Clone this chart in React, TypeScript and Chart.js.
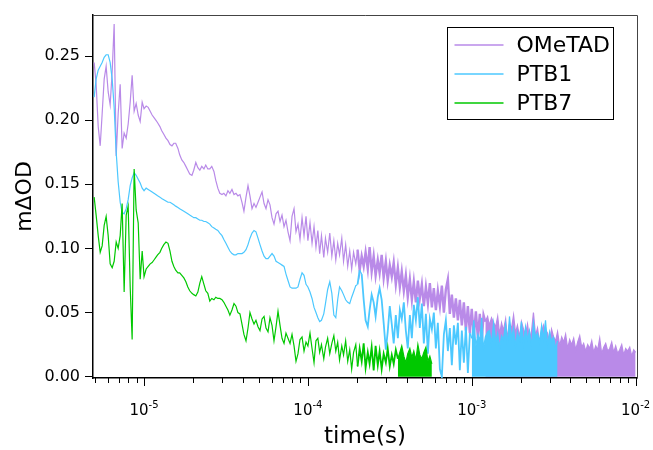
import React, { useEffect, useRef } from 'react';
import { Chart, registerables } from 'chart.js';

Chart.register(...registerables);

// Sampling times (s), shared by the three series
const TIME = [
  4.96e-6, 5.10e-6, 5.25e-6, 5.40e-6, 5.55e-6, 5.71e-6, 5.87e-6, 6.04e-6, 6.21e-6, 6.39e-6,
  6.57e-6, 6.76e-6, 6.95e-6, 7.15e-6, 7.35e-6, 7.56e-6, 7.78e-6, 8.00e-6, 8.23e-6, 8.46e-6,
  8.70e-6, 8.95e-6, 9.21e-6, 9.47e-6, 9.74e-6,
  1.00e-5, 1.03e-5, 1.06e-5, 1.09e-5, 1.12e-5, 1.15e-5, 1.18e-5, 1.21e-5, 1.25e-5, 1.28e-5,
  1.32e-5, 1.36e-5, 1.40e-5, 1.44e-5, 1.48e-5, 1.52e-5, 1.56e-5, 1.61e-5, 1.65e-5, 1.70e-5,
  1.75e-5, 1.80e-5, 1.85e-5, 1.90e-5, 1.96e-5, 2.01e-5, 2.07e-5, 2.13e-5, 2.19e-5, 2.25e-5,
  2.32e-5, 2.38e-5, 2.45e-5, 2.52e-5, 2.59e-5, 2.67e-5, 2.74e-5, 2.82e-5, 2.90e-5, 2.99e-5,
  3.07e-5, 3.16e-5, 3.25e-5, 3.34e-5, 3.44e-5, 3.54e-5, 3.64e-5, 3.74e-5, 3.85e-5, 3.96e-5,
  4.07e-5, 4.19e-5, 4.31e-5, 4.43e-5, 4.56e-5, 4.69e-5, 4.82e-5, 4.96e-5, 5.10e-5, 5.25e-5,
  5.40e-5, 5.55e-5, 5.71e-5, 5.87e-5, 6.04e-5, 6.21e-5, 6.39e-5, 6.57e-5, 6.76e-5, 6.95e-5,
  7.15e-5, 7.35e-5, 7.56e-5, 7.78e-5, 8.00e-5, 8.23e-5, 8.46e-5, 8.70e-5, 8.95e-5, 9.21e-5,
  9.47e-5, 9.74e-5,
  1.00e-4, 1.03e-4, 1.06e-4, 1.09e-4, 1.12e-4, 1.15e-4, 1.18e-4, 1.21e-4, 1.25e-4, 1.28e-4,
  1.32e-4, 1.36e-4, 1.40e-4, 1.44e-4, 1.48e-4, 1.52e-4, 1.56e-4, 1.61e-4, 1.65e-4, 1.70e-4,
  1.75e-4, 1.80e-4, 1.85e-4, 1.90e-4, 1.96e-4, 2.01e-4, 2.07e-4, 2.13e-4, 2.19e-4, 2.25e-4,
  2.32e-4, 2.38e-4, 2.45e-4, 2.52e-4, 2.59e-4, 2.67e-4, 2.74e-4, 2.82e-4, 2.90e-4, 2.99e-4,
  3.07e-4, 3.16e-4, 3.25e-4, 3.34e-4, 3.44e-4, 3.54e-4, 3.64e-4, 3.74e-4, 3.85e-4, 3.96e-4,
  4.07e-4, 4.19e-4, 4.31e-4, 4.43e-4, 4.56e-4, 4.69e-4, 4.82e-4, 4.96e-4, 5.10e-4, 5.25e-4,
  5.40e-4, 5.55e-4, 5.71e-4, 5.87e-4, 6.04e-4, 6.21e-4, 6.39e-4, 6.57e-4, 6.76e-4, 6.95e-4,
  7.15e-4, 7.35e-4, 7.56e-4, 7.78e-4, 8.00e-4, 8.23e-4, 8.46e-4, 8.70e-4, 8.95e-4, 9.21e-4,
  9.47e-4, 9.74e-4,
  1.00e-3, 1.03e-3, 1.06e-3, 1.09e-3, 1.12e-3, 1.15e-3, 1.18e-3, 1.21e-3, 1.25e-3, 1.28e-3,
  1.32e-3, 1.36e-3, 1.40e-3, 1.44e-3, 1.48e-3, 1.52e-3, 1.56e-3, 1.61e-3, 1.65e-3, 1.70e-3,
  1.75e-3, 1.80e-3, 1.85e-3, 1.90e-3, 1.96e-3, 2.01e-3, 2.07e-3, 2.13e-3, 2.19e-3, 2.25e-3,
  2.32e-3, 2.38e-3, 2.45e-3, 2.52e-3, 2.59e-3, 2.67e-3, 2.74e-3, 2.82e-3, 2.90e-3, 2.99e-3,
  3.07e-3, 3.16e-3, 3.25e-3, 3.34e-3, 3.44e-3, 3.54e-3, 3.64e-3, 3.74e-3, 3.85e-3, 3.96e-3,
  4.07e-3, 4.19e-3, 4.31e-3, 4.43e-3, 4.56e-3, 4.69e-3, 4.82e-3, 4.96e-3, 5.10e-3, 5.25e-3,
  5.40e-3, 5.55e-3, 5.71e-3, 5.87e-3, 6.04e-3, 6.21e-3, 6.39e-3, 6.57e-3, 6.76e-3, 6.95e-3,
  7.15e-3, 7.35e-3, 7.56e-3, 7.78e-3, 8.00e-3, 8.23e-3, 8.46e-3, 8.70e-3, 8.95e-3, 9.21e-3,
  9.47e-3, 9.74e-3,
  1.00e-2,
];

// mΔOD values
const OMETAD = [
  0.245, 0.228, 0.195, 0.180, 0.205, 0.232, 0.242, 0.222, 0.212, 0.238,
  0.275, 0.172, 0.205, 0.228, 0.178, 0.190, 0.186, 0.197, 0.214, 0.235,
  0.207, 0.213, 0.204, 0.199, 0.214, 0.209, 0.211, 0.210, 0.207, 0.204,
  0.202, 0.200, 0.198, 0.195, 0.192, 0.189, 0.186, 0.184, 0.181, 0.180,
  0.182, 0.182, 0.178, 0.173, 0.169, 0.167, 0.164, 0.161, 0.158, 0.157,
  0.161, 0.167, 0.163, 0.161, 0.164, 0.162, 0.165, 0.162, 0.162, 0.164,
  0.160, 0.153, 0.147, 0.143, 0.142, 0.143, 0.141, 0.145, 0.143, 0.146,
  0.142, 0.143, 0.141, 0.142, 0.136, 0.129, 0.140, 0.149, 0.141, 0.131,
  0.135, 0.132, 0.136, 0.140, 0.144, 0.135, 0.131, 0.138, 0.134, 0.124,
  0.119, 0.127, 0.129, 0.121, 0.126, 0.117, 0.122, 0.113, 0.106, 0.125,
  0.131, 0.113, 0.119,
  0.107, 0.124, 0.110, 0.125, 0.106, 0.120, 0.104, 0.117, 0.101, 0.114,
  0.096, 0.110, 0.093, 0.108, 0.097, 0.112, 0.094, 0.106, 0.091, 0.104,
  0.095, 0.108, 0.090, 0.103, 0.086, 0.098, 0.084, 0.097, 0.088, 0.099,
  0.083, 0.094, 0.086, 0.097, 0.084, 0.101, 0.082, 0.094, 0.079, 0.091,
  0.081, 0.095, 0.077, 0.090, 0.075, 0.087, 0.078, 0.089, 0.072, 0.085,
  0.070, 0.082, 0.067, 0.079, 0.062, 0.076, 0.060, 0.074, 0.058, 0.075,
  0.061, 0.072, 0.055, 0.070, 0.057, 0.073, 0.054, 0.069, 0.052, 0.067,
  0.055, 0.071, 0.050, 0.068, 0.076, 0.049, 0.064, 0.046, 0.061, 0.044,
  0.060, 0.040, 0.058, 0.036, 0.055, 0.034, 0.053, 0.032, 0.051, 0.030,
  0.049, 0.027, 0.048, 0.043, 0.047, 0.040, 0.046, 0.042,
  0.039, 0.047, 0.033, 0.042, 0.036, 0.045, 0.030, 0.041, 0.038, 0.048,
  0.034, 0.040, 0.031, 0.043, 0.037,
  0.033, 0.041, 0.029, 0.036, 0.050, 0.032, 0.038, 0.027, 0.035, 0.040,
  0.030, 0.034, 0.026, 0.037, 0.031,
  0.028, 0.035, 0.024, 0.031, 0.027, 0.033, 0.022, 0.029, 0.025, 0.030,
  0.021, 0.027, 0.032, 0.023, 0.026,
  0.020, 0.025, 0.022, 0.028, 0.019, 0.024, 0.021, 0.030, 0.018, 0.023,
  0.026, 0.020, 0.022, 0.027, 0.019,
  0.024, 0.018, 0.021, 0.025, 0.017, 0.022, 0.020, 0.023, 0.016, 0.021,
  0.019,
];

const PTB1 = [
  0.218, 0.232, 0.239, 0.242, 0.245, 0.249, 0.251, 0.251, 0.245, 0.232,
  0.210, 0.175, 0.152, 0.136, 0.128, 0.127, 0.131, 0.138, 0.149, 0.155,
  0.159, 0.157, 0.154, 0.151, 0.147, 0.145, 0.147, 0.146, 0.145, 0.144,
  0.143, 0.142, 0.141, 0.140, 0.139, 0.138, 0.137, 0.136, 0.136, 0.135,
  0.134, 0.133, 0.132, 0.131, 0.130, 0.129, 0.128, 0.127, 0.126, 0.125,
  0.124, 0.124, 0.123, 0.122, 0.122, 0.121, 0.121, 0.120, 0.119, 0.117,
  0.116, 0.115, 0.114, 0.112, 0.110, 0.107, 0.104, 0.101, 0.098, 0.096,
  0.095, 0.095, 0.096, 0.096, 0.096, 0.097, 0.099, 0.103, 0.108, 0.112,
  0.114, 0.113, 0.108, 0.103, 0.098, 0.094, 0.092, 0.092, 0.094, 0.096,
  0.094, 0.090, 0.089, 0.088, 0.087, 0.086, 0.080, 0.075, 0.070, 0.069,
  0.069, 0.069, 0.070, 0.076, 0.081, 0.079, 0.072, 0.070, 0.066, 0.061,
  0.054, 0.050, 0.046, 0.043, 0.044, 0.049, 0.057, 0.068, 0.074, 0.065,
  0.048, 0.046, 0.060, 0.070, 0.067, 0.064, 0.060, 0.058, 0.057, 0.062,
  0.066, 0.071, 0.072, 0.083, 0.080, 0.060,
  0.044, 0.039, 0.052, 0.064, 0.058, 0.047, 0.062, 0.069, 0.060, 0.042,
  0.021, 0.035, 0.055, 0.041, 0.026,
  0.048, 0.030, 0.052, 0.045, 0.058, 0.036, 0.022, 0.048, 0.030, 0.056,
  0.044, 0.062, 0.038, 0.057, 0.026,
  0.049, 0.018, 0.045, 0.037, 0.050, 0.022, 0.042, 0.006, 0.000, 0.033,
  0.044, 0.020, 0.038, 0.009, 0.040,
  0.025, 0.042, 0.005, 0.036, 0.011, 0.039, 0.003, 0.034,
  0.030, 0.044, 0.024, 0.033, 0.028, 0.046, 0.022, 0.031, 0.035, 0.036,
  0.026, 0.042,
  0.027, 0.034, 0.023, 0.032, 0.029, 0.041, 0.025, 0.047, 0.030, 0.038,
  0.024, 0.035, 0.028, 0.043, 0.026,
  0.039, 0.029, 0.036, 0.024, 0.042, 0.031, 0.034, 0.027, 0.040, 0.030,
  0.044, 0.025, 0.035, 0.028, 0.031, 0.022, 0.028,
];

const PTB7 = [
  0.140, 0.126, 0.110, 0.097, 0.102, 0.118, 0.125, 0.110, 0.088, 0.085,
  0.090, 0.105, 0.100, 0.110, 0.135, 0.066, 0.126, 0.133, 0.070, 0.029,
  0.162, 0.130, 0.120, 0.076, 0.098, 0.078, 0.084, 0.086, 0.088, 0.089,
  0.091, 0.093, 0.095, 0.097, 0.100, 0.103, 0.105, 0.104, 0.098, 0.090,
  0.086, 0.083, 0.081, 0.081, 0.079, 0.077, 0.074, 0.070, 0.067, 0.065,
  0.064, 0.063, 0.066, 0.073, 0.078, 0.072, 0.067, 0.065, 0.059, 0.061,
  0.060, 0.062, 0.061, 0.061, 0.060, 0.058, 0.055, 0.052, 0.048, 0.052,
  0.057, 0.055, 0.050, 0.049, 0.041, 0.033, 0.028, 0.038, 0.050, 0.045,
  0.041, 0.044, 0.039, 0.036, 0.045, 0.047, 0.038, 0.035, 0.046, 0.040,
  0.028, 0.039, 0.051, 0.040, 0.030, 0.026, 0.034, 0.030, 0.026, 0.033,
  0.024, 0.012, 0.018, 0.029, 0.031, 0.020, 0.027, 0.024, 0.034, 0.022,
  0.011, 0.028, 0.030, 0.019, 0.025, 0.014, 0.023, 0.030, 0.018, 0.026,
  0.032, 0.020, 0.027, 0.013, 0.024, 0.017, 0.028, 0.012, 0.021, 0.006,
  0.019, 0.025, 0.008, 0.022, 0.012, 0.026, 0.007, 0.019, 0.010, 0.023,
  0.005, 0.024, 0.009, 0.020, 0.006, 0.018, 0.011, 0.022, 0.008, 0.017,
  0.010,
  0.021, 0.014, 0.019, 0.024, 0.016, 0.011, 0.018, 0.022, 0.015, 0.020,
  0.013, 0.025, 0.017, 0.014, 0.019, 0.023, 0.012, 0.016, 0.010,
];

const SERIES_LABELS = ['OMeTAD', 'PTB1', 'PTB7'];
const SERIES_COLORS = ['#b98ae8', '#4cc8ff', '#00c800'];
// from these times on, the traces are so dense that they read as a filled band
const BAND_FROM = [1.2e-3, 1.0e-3, 3.5e-4];
const STEEP_FROM = 2e-4;
const STEEP_WIDTH = [2.4, 1.8, 1.8];

const Y_TICKS = [0, 0.05, 0.1, 0.15, 0.2, 0.25];
const X_MAJOR = [1e-5, 1e-4, 1e-3, 1e-2];
const X_MAJOR_EXP = ['-5', '-4', '-3', '-2'];
const X_MINOR = [
  5e-6, 6e-6, 7e-6, 8e-6, 9e-6,
  2e-5, 3e-5, 4e-5, 5e-5, 6e-5, 7e-5, 8e-5, 9e-5,
  2e-4, 3e-4, 4e-4, 5e-4, 6e-4, 7e-4, 8e-4, 9e-4,
  2e-3, 3e-3, 4e-3, 5e-3, 6e-3, 7e-3, 8e-3, 9e-3,
];

const FONT = 'DejaVu Sans';
const CLEAR = 'rgba(0,0,0,0)';

function toPoints(values: number[]) {
  return values.map((v, i) => ({ x: TIME[i], y: v }));
}

const framePlugin = {
  id: 'frameAndTicks',
  afterDraw(chart: any) {
    const { ctx, chartArea: a, scales } = chart;
    const xs = scales.x;
    ctx.save();
    // top & right frame
    ctx.strokeStyle = '#444';
    ctx.lineWidth = 1;
    ctx.beginPath();
    ctx.moveTo(a.left, a.top + 0.5);
    ctx.lineTo(a.right + 0.5, a.top + 0.5);
    ctx.lineTo(a.right + 0.5, a.bottom);
    ctx.stroke();
    // x tick marks
    ctx.strokeStyle = '#000';
    ctx.lineWidth = 1;
    ctx.beginPath();
    X_MINOR.forEach((t) => {
      const px = Math.round(xs.getPixelForValue(t)) + 0.5;
      ctx.moveTo(px, a.bottom);
      ctx.lineTo(px, a.bottom + 5);
    });
    X_MAJOR.forEach((t) => {
      const px = Math.round(xs.getPixelForValue(t)) + 0.5;
      ctx.moveTo(px, a.bottom);
      ctx.lineTo(px, a.bottom + 8);
    });
    ctx.stroke();
    // x tick labels: 10 with superscript exponent
    ctx.fillStyle = '#000';
    ctx.textBaseline = 'alphabetic';
    X_MAJOR.forEach((t, k) => {
      const px = xs.getPixelForValue(t);
      ctx.font = `15px "${FONT}"`;
      const wBase = ctx.measureText('10').width;
      ctx.font = `10px "${FONT}"`;
      const wExp = ctx.measureText(X_MAJOR_EXP[k]).width;
      const start = px - (wBase + wExp) / 2;
      ctx.font = `15px "${FONT}"`;
      ctx.textAlign = 'left';
      ctx.fillText('10', start, a.bottom + 37);
      ctx.font = `10px "${FONT}"`;
      ctx.fillText(X_MAJOR_EXP[k], start + wBase, a.bottom + 30);
    });
    // legend
    const bx = a.right - 189.5;
    const by = a.top + 12.5;
    const bw = 166;
    const bh = 92;
    ctx.fillStyle = '#fff';
    ctx.fillRect(bx, by, bw, bh);
    ctx.strokeStyle = '#000';
    ctx.lineWidth = 1;
    ctx.strokeRect(bx, by, bw, bh);
    const order = [2, 1, 0];
    chart.data.datasets.forEach((ds: any, di: number) => {
      const row = order[di];
      const ly = by + 17.5 + row * 29;
      ctx.strokeStyle = ds.borderColor;
      ctx.lineWidth = 1.5;
      ctx.beginPath();
      ctx.moveTo(bx + 7, ly);
      ctx.lineTo(bx + 56, ly);
      ctx.stroke();
      ctx.fillStyle = '#000';
      ctx.font = `22px "${FONT}"`;
      ctx.textAlign = 'left';
      ctx.textBaseline = 'middle';
      ctx.fillText(ds.label, bx + 69, ly + 1);
    });
    ctx.restore();
  },
};

export default function App() {
  const ref = useRef<HTMLCanvasElement | null>(null);

  useEffect(() => {
    if (!ref.current) return;
    const makeDs = (k: number, values: number[]) => ({
      label: SERIES_LABELS[k],
      data: toPoints(values),
      borderColor: SERIES_COLORS[k],
      backgroundColor: CLEAR,
      borderWidth: 1.2,
      pointRadius: 0,
      tension: 0,
      fill: 'origin',
      segment: {
        borderWidth: (c: any) => {
          const t = TIME[c.p0DataIndex];
          if (t >= BAND_FROM[k]) return 1.2;
          return t >= STEEP_FROM && Math.abs(c.p1.y - c.p0.y) > 6 ? STEEP_WIDTH[k] : 1.2;
        },
        backgroundColor: (c: any) =>
          TIME[c.p0DataIndex] >= BAND_FROM[k] ? SERIES_COLORS[k] : CLEAR,
      },
    });
    const chart = new Chart(ref.current, {
      type: 'line',
      data: {
        // drawn so that PTB7 is on top and OMeTAD underneath
        datasets: [makeDs(2, PTB7), makeDs(1, PTB1), makeDs(0, OMETAD)],
      },
      options: {
        animation: false,
        responsive: false,
        devicePixelRatio: 1,
        parsing: false,
        normalized: true,
        layout: { padding: { left: 0, right: 16, top: 15, bottom: 0 } },
        plugins: {
          legend: { display: false },
          tooltip: { enabled: false },
        },
        scales: {
          x: {
            type: 'logarithmic',
            min: 4.88e-6,
            max: 1.02e-2,
            afterFit: (s: any) => {
              s.height = 72;
            },
            ticks: { display: false },
            grid: { display: false },
            border: { display: true, color: '#000', width: 1.5 },
            title: {
              display: true,
              text: 'time(s)',
              color: '#000',
              font: { family: FONT, size: 23, lineHeight: 1 },
              padding: { top: 0, bottom: 1.5 },
            },
          },
          y: {
            type: 'linear',
            min: -0.001,
            max: 0.282,
            afterFit: (s: any) => {
              s.width = 93;
            },
            afterBuildTicks: (s: any) => {
              s.ticks = Y_TICKS.map((v) => ({ value: v }));
            },
            ticks: {
              color: '#000',
              padding: 5,
              font: { family: FONT, size: 16 },
              callback: (v: any) => Number(v).toFixed(2),
            },
            grid: {
              drawOnChartArea: false,
              drawTicks: true,
              tickLength: 8,
              color: '#000',
            },
            border: { display: true, color: '#000', width: 1.5 },
            title: {
              display: true,
              text: 'mΔOD',
              color: '#000',
              font: { family: FONT, size: 22, lineHeight: 1 },
              padding: { top: 14, bottom: 0 },
            },
          },
        },
      },
      plugins: [framePlugin],
    });
    return () => chart.destroy();
  }, []);

  return (
    <div style={{ position: 'fixed', left: 0, top: 0, width: 653, height: 450, background: '#fff' }}>
      <canvas ref={ref} width={653} height={450} style={{ width: 653, height: 450, display: 'block' }} />
    </div>
  );
}
